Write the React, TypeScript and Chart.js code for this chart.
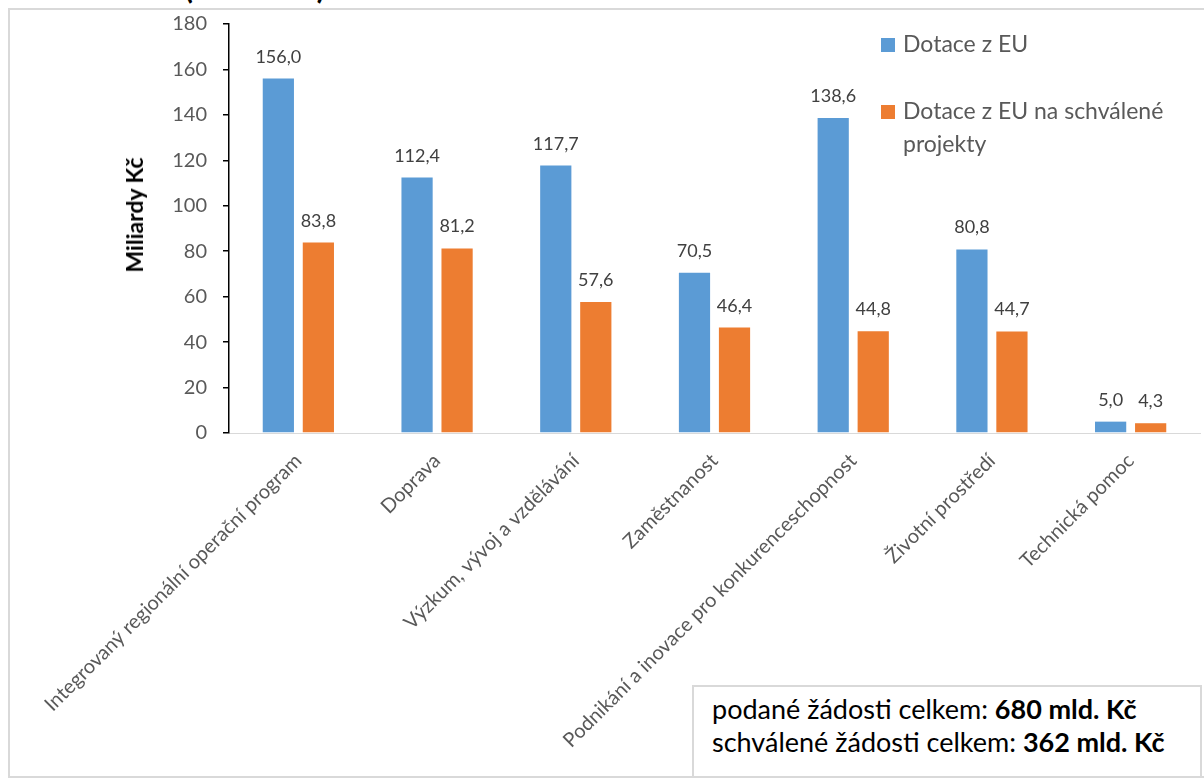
import React, { useEffect, useRef } from 'react';
import { Chart, registerables } from 'chart.js';

Chart.register(...registerables);

const categories = [
  'Integrovaný regionální operační program',
  'Doprava',
  'Výzkum, vývoj a vzdělávání',
  'Zaměstnanost',
  'Podnikání a inovace pro konkurenceschopnost',
  'Životní prostředí',
  'Technická pomoc',
];
const dotaceEU = [156.0, 112.4, 117.7, 70.5, 138.6, 80.8, 5.0];
const dotaceSchvalene = [83.8, 81.2, 57.6, 46.4, 44.8, 44.7, 4.3];
const seriesNames = ['Dotace z EU', 'Dotace z EU na schválené projekty'];
const seriesColors = ['#5b9bd5', '#ed7d31'];
const yMin = 0;
const yMax = 180;
const yStep = 20;
const yTitle = 'Miliardy Kč';
const noteLines = [
  { text: 'podané žádosti celkem: ', bold: '680 mld. Kč' },
  { text: 'schválené žádosti celkem: ', bold: '362 mld. Kč' },
];

const FONT = 'Lato';

const valueLabels = {
  id: 'valueLabels',
  afterDatasetsDraw(chart: any) {
    const ctx = chart.ctx;
    ctx.save();
    ctx.font = `18px ${FONT}`;
    ctx.fillStyle = '#404040';
    ctx.textAlign = 'center';
    ctx.textBaseline = 'alphabetic';
    chart.data.datasets.forEach((ds: any, i: number) => {
      const meta = chart.getDatasetMeta(i);
      meta.data.forEach((bar: any, j: number) => {
        const v = ds.data[j] as number;
        ctx.fillText(v.toFixed(1).replace('.', ','), bar.x, bar.y - 16);
      });
    });
    ctx.restore();
  },
};

export default function App() {
  const canvasRef = useRef<HTMLCanvasElement | null>(null);

  useEffect(() => {
    let chart: Chart | null = null;
    let cancelled = false;
    const make = () => {
      if (cancelled || !canvasRef.current) return;
      chart = new Chart(canvasRef.current, {
        type: 'bar',
        data: {
          labels: categories,
          datasets: [
            {
              label: seriesNames[0],
              data: dotaceEU,
              backgroundColor: seriesColors[0],
              categoryPercentage: 0.577,
              barPercentage: 0.78,
            },
            {
              label: seriesNames[1],
              data: dotaceSchvalene,
              backgroundColor: seriesColors[1],
              categoryPercentage: 0.577,
              barPercentage: 0.78,
            },
          ],
        },
        options: {
          responsive: false,
          animation: false,
          maintainAspectRatio: false,
          layout: { padding: { top: 14, right: 4, left: 0, bottom: 0 } },
          plugins: {
            legend: { display: false },
            tooltip: { enabled: false },
          },
          scales: {
            x: {
              grid: { display: false },
              border: { display: true, color: '#d9d9d9', width: 1 },
              ticks: {
                color: '#595959',
                font: { family: FONT, size: 20 },
                minRotation: 45,
                maxRotation: 45,
                autoSkip: false,
                padding: 8,
              },
              afterFit: (scale: any) => {
                scale.height = 343;
                scale.paddingLeft = 0;
                scale.paddingRight = 0;
              },
            },
            y: {
              min: yMin,
              max: yMax,
              ticks: {
                stepSize: yStep,
                color: '#595959',
                font: { family: FONT, size: 20 },
                padding: 16,
              },
              grid: {
                drawOnChartArea: false,
                drawTicks: true,
                tickLength: 6,
                color: '#000',
                tickColor: '#000',
                lineWidth: 1.5,
              },
              border: { display: true, color: '#000', width: 1.5 },
              afterFit: (scale: any) => {
                scale.width = 219;
                scale.paddingTop = 0;
                scale.paddingBottom = 0;
              },
            },
          },
        },
        plugins: [valueLabels],
      });
    };
    const fontsReady = (document as any).fonts
      ? Promise.all([
          (document as any).fonts.load(`18px ${FONT}`),
          (document as any).fonts.load(`bold 18px ${FONT}`),
        ]).catch(() => null)
      : Promise.resolve(null);
    fontsReady.then(make);
    return () => {
      cancelled = true;
      if (chart) chart.destroy();
    };
  }, []);

  return (
    <div
      style={{
        position: 'absolute',
        left: 0,
        top: 0,
        width: 1204,
        height: 783,
        overflow: 'hidden',
        background: '#fff',
        fontFamily: FONT,
      }}
    >
      {/* cut-off title (only the bottom of the brackets is visible) */}
      <div style={{ position: 'absolute', left: 0, top: 0, width: 1204, height: 8, overflow: 'hidden' }}>
        <div
          style={{
            position: 'absolute',
            left: 185,
            top: -26,
            fontSize: 28,
            lineHeight: '28px',
            fontWeight: 900,
            color: '#000',
            whiteSpace: 'nowrap',
            display: 'flex',
          }}
        >
          <span>(</span>
          <span style={{ display: 'inline-block', width: 124, textAlign: 'center' }}>mld. Kč</span>
          <span>)</span>
        </div>
      </div>
      {/* outer frame */}
      <div
        style={{
          position: 'absolute',
          left: 8,
          top: 8,
          width: 1220,
          height: 770,
          boxSizing: 'border-box',
          border: '2px solid #d9d9d9',
        }}
      />
      <canvas
        ref={canvasRef}
        width={1194}
        height={766}
        style={{ position: 'absolute', left: 10, top: 10, width: 1194, height: 766 }}
      />
      {/* y axis title */}
      <div
        style={{
          position: 'absolute',
          left: 134,
          top: 215,
          transform: 'translate(-50%, -50%) rotate(-90deg)',
          fontSize: 23,
          fontWeight: 'bold',
          color: '#000',
          whiteSpace: 'nowrap',
          lineHeight: '26px',
        }}
      >
        {yTitle}
      </div>
      {/* legend */}
      <div style={{ position: 'absolute', left: 881, top: 38, width: 14, height: 14, background: seriesColors[0] }} />
      <div
        style={{
          position: 'absolute',
          left: 903,
          top: 30,
          fontSize: 23,
          lineHeight: '27.6px',
          color: '#595959',
          whiteSpace: 'nowrap',
        }}
      >
        {seriesNames[0]}
      </div>
      <div style={{ position: 'absolute', left: 881, top: 105, width: 14, height: 14, background: seriesColors[1] }} />
      <div
        style={{
          position: 'absolute',
          left: 903,
          top: 94,
          fontSize: 23,
          lineHeight: '33px',
          color: '#595959',
          whiteSpace: 'nowrap',
        }}
      >
        Dotace z EU na schválené
        <br />
        projekty
      </div>
      {/* note box */}
      <div
        style={{
          position: 'absolute',
          left: 692,
          top: 685,
          width: 510,
          height: 93,
          boxSizing: 'border-box',
          border: '2px solid #d9d9d9',
          background: '#fff',
          paddingLeft: 18,
          paddingTop: 5,
          fontSize: 27,
          lineHeight: '33px',
          color: '#000',
          whiteSpace: 'nowrap',
        }}
      >
        {noteLines.map((l, i) => (
          <div key={i}>
            {l.text}
            <b>{l.bold}</b>
          </div>
        ))}
      </div>
    </div>
  );
}
